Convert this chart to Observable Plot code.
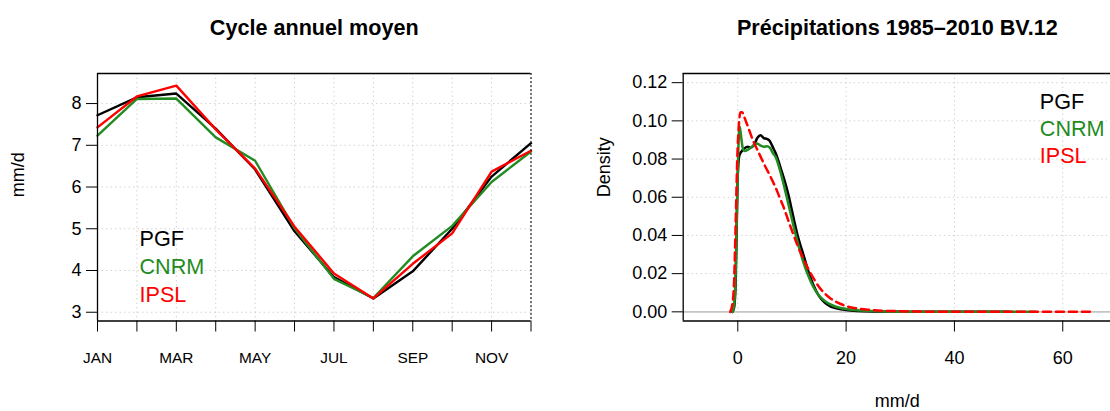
<!DOCTYPE html>
<html>
<head>
<meta charset="utf-8">
<script src="https://cdn.jsdelivr.net/npm/d3@7"></script>
<script src="https://cdn.jsdelivr.net/npm/@observablehq/plot@0.6"></script>
<style>
html, body { margin: 0; padding: 0; background: #fff; width: 1110px; height: 411px; overflow: hidden; }
#left { position: absolute; left: 0; top: 0; width: 560px; height: 411px; }
#right { position: absolute; left: 560px; top: 0; width: 565px; height: 411px; }
svg { max-width: none !important; }
</style>
</head>
<body>
<div id="left"></div>
<div id="right"></div>
<script>
// ---------- data ----------
const seriesNames = ["PGF", "CNRM", "IPSL"];
const seriesColors = ["#000000", "#228B22", "#FF0000"];

const months = [1, 2, 3, 4, 5, 6, 7, 8, 9, 10, 11, 12];
const monthLabels = ["JAN", "FEB", "MAR", "APR", "MAY", "JUN", "JUL", "AUG", "SEP", "OCT", "NOV", "DEC"];
const cycleTicks = [3, 4, 5, 6, 7, 8];

const pgfCycle  = [7.72, 8.15, 8.24, 7.40, 6.42, 4.94, 3.84, 3.33, 3.98, 5.00, 6.25, 7.05];
const cnrmCycle = [7.23, 8.11, 8.12, 7.19, 6.63, 5.01, 3.80, 3.34, 4.34, 5.07, 6.12, 6.85];
const ipslCycle = [7.43, 8.17, 8.43, 7.38, 6.44, 5.05, 3.93, 3.33, 4.16, 4.89, 6.37, 6.87];

const densXTicks = [0, 20, 40, 60];
const densYTicks = [0, 0.02, 0.04, 0.06, 0.08, 0.10, 0.12];

const pgfDensX = [-1.0, -0.7, -0.4, -0.2, 0.0, 0.3, 0.7, 1.2, 1.8, 2.4, 3.0, 3.6, 4.2, 4.8, 5.4, 5.9, 6.5, 7.0, 7.5, 8.0, 8.5, 9.0, 9.5, 10, 10.5, 11, 11.5, 12, 13, 14, 15, 16, 17, 18, 19, 20, 22, 25, 30, 40, 50];
const pgfDensY = [0, 0.002, 0.015, 0.045, 0.072, 0.082, 0.084, 0.0855, 0.0865, 0.086, 0.0875, 0.091, 0.0925, 0.091, 0.0905, 0.0895, 0.086, 0.083, 0.079, 0.0745, 0.070, 0.065, 0.0595, 0.053, 0.0465, 0.0405, 0.0355, 0.031, 0.0215, 0.0138, 0.0082, 0.005, 0.003, 0.002, 0.0014, 0.001, 0.0005, 0.0002, 0.0001, 0, 0];

const cnrmDensX = [-1.0, -0.7, -0.4, -0.15, 0.1, 0.35, 0.6, 0.9, 1.3, 1.8, 2.4, 3.0, 3.6, 4.2, 4.8, 5.4, 5.9, 6.5, 7.0, 7.5, 8.0, 8.5, 9.0, 9.5, 10, 10.5, 11, 11.5, 12, 13, 14, 15, 16, 17, 18, 19, 20, 22, 25, 30, 40, 55];
const cnrmDensY = [0, 0.003, 0.02, 0.055, 0.085, 0.097, 0.092, 0.086, 0.0842, 0.0848, 0.086, 0.0872, 0.0882, 0.087, 0.0865, 0.0867, 0.086, 0.083, 0.081, 0.077, 0.072, 0.0665, 0.0605, 0.0545, 0.0485, 0.0425, 0.037, 0.0318, 0.027, 0.019, 0.0128, 0.0085, 0.0058, 0.004, 0.0028, 0.002, 0.0015, 0.0008, 0.0004, 0.0001, 0, 0];

const ipslDensX = [-1.4, -1.0, -0.7, -0.4, -0.1, 0.2, 0.5, 0.8, 1.2, 1.6, 2.0, 2.5, 3.0, 3.5, 4.0, 4.5, 5.0, 5.5, 6.0, 6.5, 7.0, 7.5, 8.0, 8.5, 9.0, 9.5, 10, 11, 12, 13, 14, 15, 16, 17, 18, 19, 20, 22, 24, 26, 30, 35, 40, 65];
const ipslDensY = [0, 0.004, 0.015, 0.045, 0.08, 0.098, 0.1045, 0.1045, 0.102, 0.099, 0.096, 0.092, 0.0885, 0.0855, 0.0825, 0.0795, 0.0765, 0.0738, 0.071, 0.068, 0.065, 0.0615, 0.058, 0.0545, 0.0505, 0.0465, 0.0425, 0.035, 0.0285, 0.0225, 0.0175, 0.013, 0.0098, 0.0073, 0.0055, 0.0041, 0.003, 0.0018, 0.0011, 0.0007, 0.0003, 0.0001, 0, 0];

// ---------- tables built from the arrays ----------
const cycleSeries = [pgfCycle, cnrmCycle, ipslCycle];
const cycleData = seriesNames.flatMap((s, i) => months.map((m, j) => ({series: s, month: m, value: cycleSeries[i][j]})));

const densSeries = [[pgfDensX, pgfDensY], [cnrmDensX, cnrmDensY], [ipslDensX, ipslDensY]];
const densData = seriesNames.map((s, i) => densSeries[i][0].map((x, j) => ({series: s, x, y: densSeries[i][1][j]})));

// ---------- styling ----------
const FONT = "'Liberation Sans', Arial, Helvetica, sans-serif";
const gridStyle = {stroke: "#d3d3d3", strokeWidth: 1, strokeDasharray: "1.5,3"};
const boxStyle = {stroke: "#000", strokeWidth: 1.3};
const cycleYDomain = [2.79, 8.72];
const densXDomain = [-10.08, 69.0];
const densYDomain = [-0.0048, 0.1248];
const svgStyle = {fontFamily: FONT, fontSize: "18px", color: "#000", background: "transparent", overflow: "visible", maxWidth: "none"};

// ---------- left panel ----------
const leftPlot = Plot.plot({
  width: 560, height: 411,
  marginLeft: 97, marginRight: 29.5, marginTop: 73, marginBottom: 90.5,
  style: svgStyle,
  x: {type: "linear", domain: [months[0], months[months.length - 1]]},
  y: {domain: cycleYDomain},
  color: {domain: seriesNames, range: seriesColors},
  marks: [
    Plot.ruleX(months, gridStyle),
    Plot.ruleY(cycleTicks, gridStyle),
    Plot.line(cycleData, {x: "month", y: "value", z: "series", stroke: "series", strokeWidth: 2.4}),
    Plot.ruleX([months[0]], boxStyle),
    Plot.ruleY([cycleYDomain[0]], boxStyle),
    Plot.ruleY([cycleYDomain[1]], boxStyle),
    Plot.ruleX([months[months.length - 1]], {stroke: "#222", strokeWidth: 1.2, strokeDasharray: "2,2"}),
    Plot.axisX(months, {tickSize: 11, tickPadding: 20, fontSize: 15.4, label: null,
      tickFormat: d => (d % 2 === 1 ? monthLabels[d - 1] : "")}),
    Plot.axisY(cycleTicks, {tickSize: 11, tickPadding: 5, fontSize: 18, label: null}),
    Plot.text(["Cycle annuel moyen"], {frameAnchor: "top", dy: -45, lineAnchor: "middle", fontWeight: "bold", fontSize: 21.6}),
    Plot.text(["mm/d"], {frameAnchor: "left", dx: -79, rotate: -90, lineAnchor: "middle", fontSize: 18}),
    ...seriesNames.map((s, i) => Plot.text([s], {frameAnchor: "top-left", dx: 42, dy: 165.5 + 28 * i,
      textAnchor: "start", lineAnchor: "middle", fill: seriesColors[i], fontSize: 21.6}))
  ]
});
document.getElementById("left").appendChild(leftPlot);

// ---------- right panel ----------
const rightPlot = Plot.plot({
  width: 565, height: 411,
  marginLeft: 122.7, marginRight: 14, marginTop: 73, marginBottom: 90.5,
  style: svgStyle,
  x: {domain: densXDomain},
  y: {domain: densYDomain},
  color: {domain: seriesNames, range: seriesColors},
  marks: [
    Plot.ruleX(densXTicks, gridStyle),
    Plot.ruleY(densYTicks, gridStyle),
    Plot.ruleY([0], {stroke: "#c4c4c4", strokeWidth: 1.8}),
    Plot.line(densData[0], {x: "x", y: "y", stroke: "series", strokeWidth: 2.5, curve: "monotone-x"}),
    Plot.line(densData[1], {x: "x", y: "y", stroke: "series", strokeWidth: 2.5, curve: "monotone-x"}),
    Plot.line(densData[2], {x: "x", y: "y", stroke: "series", strokeWidth: 2.5, curve: "monotone-x", strokeDasharray: "8,5"}),
    Plot.ruleX([densXDomain[0]], boxStyle),
    Plot.ruleY([densYDomain[0]], boxStyle),
    Plot.ruleY([densYDomain[1]], boxStyle),
    Plot.axisX(densXTicks, {tickSize: 11, tickPadding: 19, fontSize: 18, label: null}),
    Plot.axisY(densYTicks, {tickSize: 11, tickPadding: 5, fontSize: 18, label: null, tickFormat: d3.format(".2f")}),
    Plot.text(["Précipitations 1985–2010 BV.12"], {frameAnchor: "top", dy: -45, lineAnchor: "middle", fontWeight: "bold", fontSize: 21.6}),
    Plot.text(["Density"], {frameAnchor: "left", dx: -79.4, rotate: -90, lineAnchor: "middle", fontSize: 18}),
    Plot.text(["mm/d"], {frameAnchor: "bottom", dy: 80, lineAnchor: "middle", fontSize: 18}),
    ...seriesNames.map((s, i) => Plot.text([s], {frameAnchor: "top-left", dx: 356.6, dy: 28.7 + 26.7 * i,
      textAnchor: "start", lineAnchor: "middle", fill: seriesColors[i], fontSize: 21.6}))
  ]
});
document.getElementById("right").appendChild(rightPlot);
</script>
</body>
</html>
